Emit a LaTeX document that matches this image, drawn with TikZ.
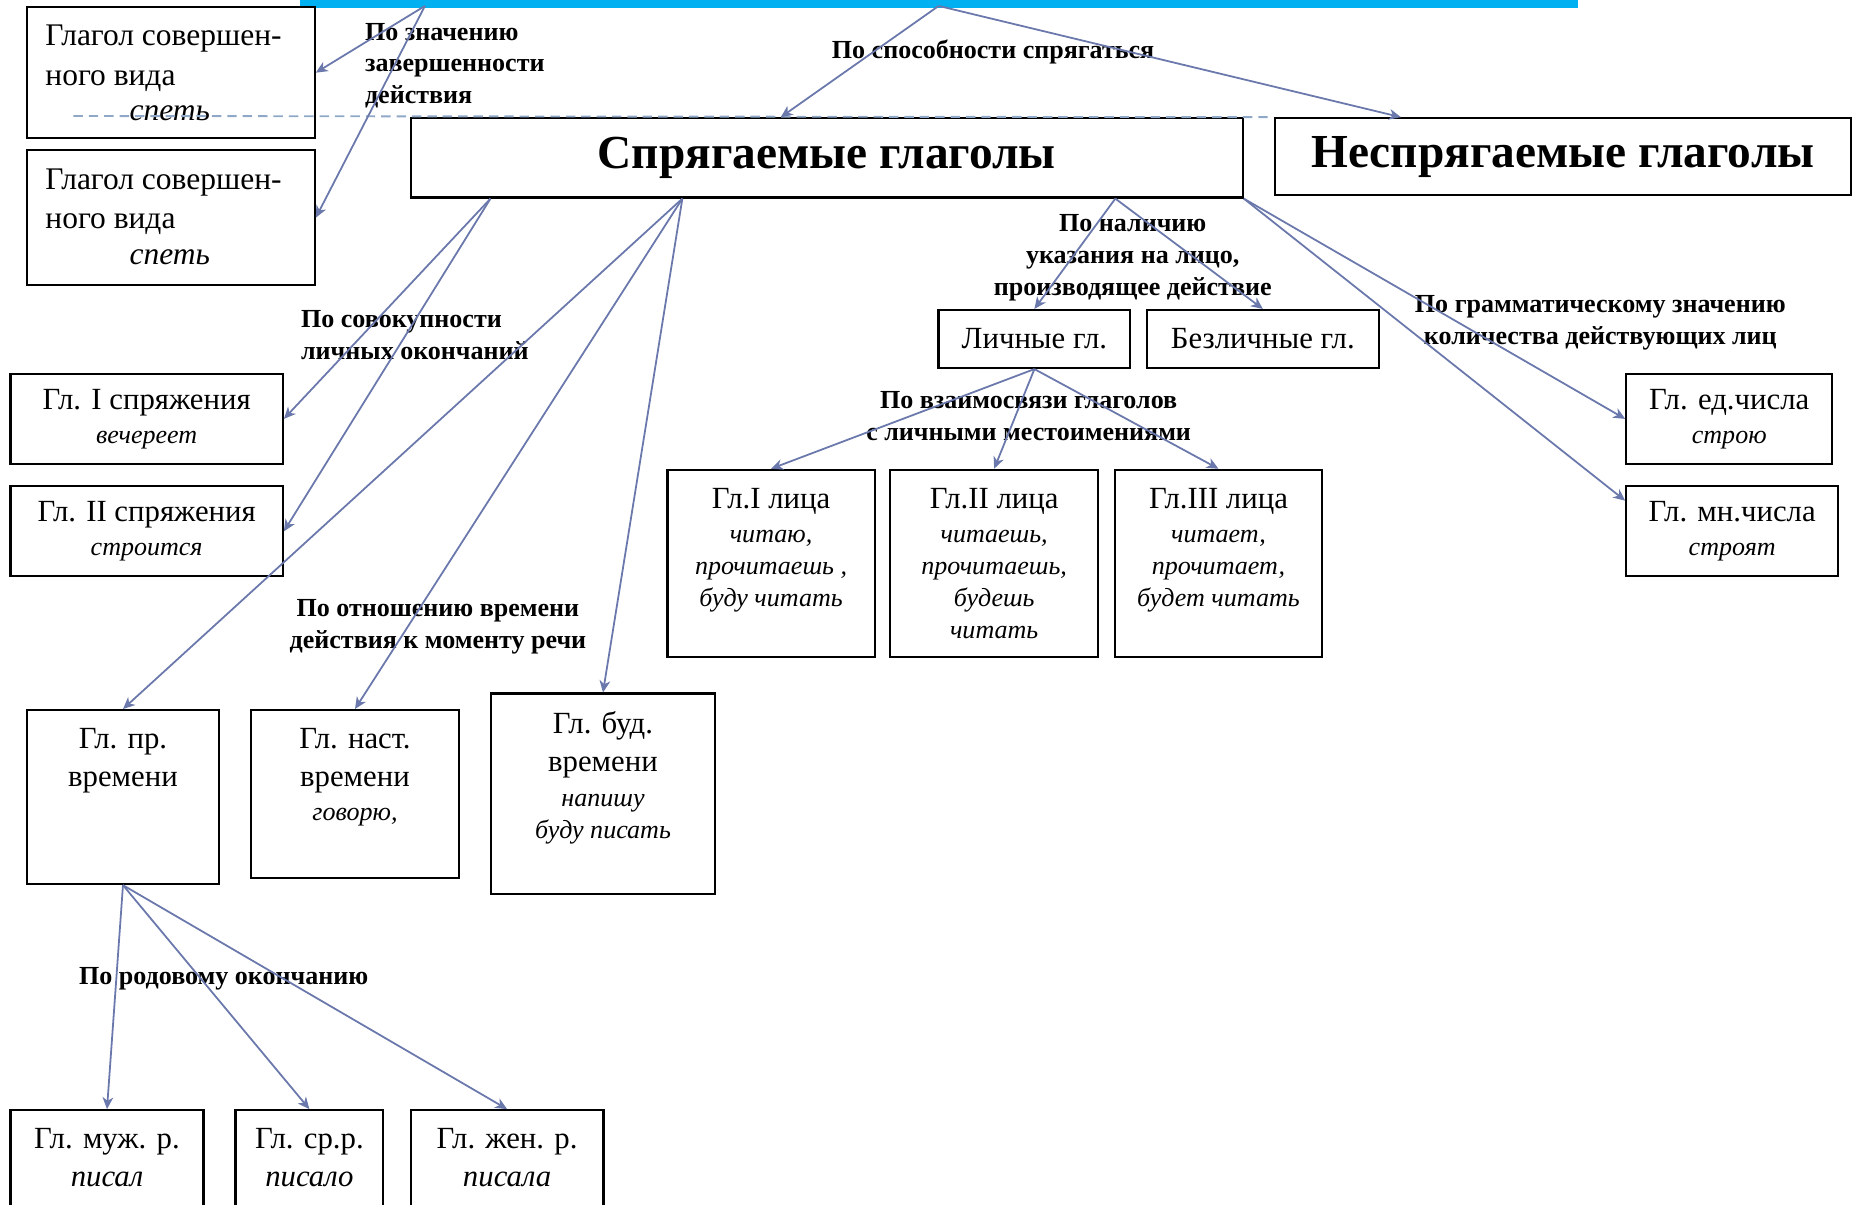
\documentclass[tikz,border=0pt]{standalone}
\usepackage{fontspec}
\setmainfont{Liberation Serif}
\usetikzlibrary{arrows.meta, calc, positioning}
\definecolor{arrc}{HTML}{6A78AC}
\definecolor{barc}{HTML}{00B0F0}
\definecolor{dashc}{HTML}{8FA8C8}
\newcommand{\smpl}[1]{{\fontsize{11}{13.5}\selectfont\itshape #1}}

\begin{document}
\begin{tikzpicture}[x=0.5pt, y=-0.5pt,
                box/.style={draw, line width=0.9pt, inner sep=0pt, anchor=north west},
                ttl/.style={font=\fontsize{13}{16}\selectfont, align=center, inner sep=0pt},
                lbl/.style={font=\bfseries\fontsize{11}{13.5}\selectfont, align=center, inner sep=0pt}]
            \tikzstyle{arr}=[draw=arrc, line width=0.75pt, -{Stealth[length=5pt, width=4.5pt, inset=1.5pt]}]
            \useasboundingbox (0,0) rectangle (1568,1018);

            \node[fill=barc, inner sep=0pt, minimum width=540pt, minimum height=3pt, anchor=north west] (bar) at (253,0) {};
            \coordinate (b1) at (359,5);
            \coordinate (b2) at (793,5);
            \coordinate (dl) at (62,98);

            \node[box, minimum width=121.5pt, minimum height=55.5pt] (ga) at (22,5) {};
            \node[ttl, font=\fontsize{13.3}{16.5}\selectfont, align=left, below right=8pt and 8pt of ga.north west] (ga-t) {Глагол совершен-\\ного вида\\[-1.5pt]\makebox[105pt]{\itshape спеть}};
            \node[box, minimum width=121.5pt, minimum height=57pt] (gb) at (22,126) {};
            \node[ttl, font=\fontsize{13.3}{16.5}\selectfont, align=left, below right=8pt and 8pt of gb.north west] (gb-t) {Глагол совершен-\\ного вида\\[-1pt]\makebox[105pt]{\itshape спеть}};

            \node[box, font=\bfseries\fontsize{20}{24}\selectfont, minimum width=351.5pt, minimum height=33.5pt] (spr) at (346,99) {Спрягаемые глаголы};
            \node[box, font=\bfseries\fontsize{20}{24}\selectfont, minimum width=243.5pt, minimum height=32.5pt] (nesp) at (1076,99) {Неспрягаемые глаголы};

            \node[box, ttl, minimum width=81pt, minimum height=24.5pt] (lich) at (792,261) {Личные гл.};
            \node[box, ttl, minimum width=98pt, minimum height=24.5pt] (bezl) at (968,261) {Безличные гл.};

            \node[box, ttl, minimum width=115pt, minimum height=38pt] (sp1) at (8,315) {Гл. I спряжения\\[-1.5pt]\smpl{вечереет}};
            \node[box, ttl, minimum width=115pt, minimum height=38pt] (sp2) at (8,410) {Гл. II спряжения\\[-1.5pt]\smpl{строится}};

            \node[box, minimum width=87.5pt, minimum height=79pt] (l1) at (563,396) {};
            \node[ttl, below=8pt of l1.north] (l1-t) {Гл.I лица\\[-1.5pt]\smpl{читаю,}\\[-2.5pt]\smpl{прочитаешь ,}\\[-2.5pt]\smpl{буду читать}};
            \node[box, minimum width=88pt, minimum height=79pt] (l2) at (751,396) {};
            \node[ttl, below=8pt of l2.north] (l2-t) {Гл.II лица\\[-1.5pt]\smpl{читаешь,}\\[-2.5pt]\smpl{прочитаешь,}\\[-2.5pt]\smpl{будешь}\\[-2.5pt]\smpl{читать}};
            \node[box, minimum width=87.5pt, minimum height=79pt] (l3) at (941,396) {};
            \node[ttl, below=8pt of l3.north] (l3-t) {Гл.III лица\\[-1.5pt]\smpl{читает,}\\[-2.5pt]\smpl{прочитает,}\\[-2.5pt]\smpl{будет читать}};

            \node[box, ttl, minimum width=87pt, minimum height=38pt] (ed) at (1373,315) {Гл. ед.числа\\[-1.5pt]\smpl{строю}};
            \node[box, ttl, minimum width=89.5pt, minimum height=38pt] (mn) at (1373,410) {Гл. мн.числа\\[-1.5pt]\smpl{строят}};

            \node[box, minimum width=81pt, minimum height=73.5pt] (prv) at (22,599) {};
            \node[ttl, below=8pt of prv.north] (prv-t) {Гл. пр.\\времени};
            \node[box, minimum width=88pt, minimum height=71pt] (nst) at (211,599) {};
            \node[ttl, below=8pt of nst.north] (nst-t) {Гл. наст.\\времени\\[-1.5pt]\smpl{говорю,}};
            \node[box, minimum width=94.5pt, minimum height=84.5pt] (bud) at (414,585) {};
            \node[ttl, below=8pt of bud.north] (bud-t) {Гл. буд.\\времени\\[-1.5pt]\smpl{напишу}\\[-2.5pt]\smpl{буду писать}};

            \node[box, minimum width=81.5pt, minimum height=45pt] (muz) at (8,937) {};
            \node[ttl, below=8pt of muz.north] (muz-t) {Гл. муж. р.\\{\itshape писал}};
            \node[box, minimum width=62.5pt, minimum height=45pt] (sr) at (198,937) {};
            \node[ttl, below=8pt of sr.north] (sr-t) {Гл. ср.р.\\{\itshape писало}};
            \node[box, minimum width=81.5pt, minimum height=45pt] (zhen) at (346,937) {};
            \node[ttl, below=8pt of zhen.north] (zhen-t) {Гл. жен. р.\\{\itshape писала}};

            \node[lbl, align=left, anchor=north west] (zn) at (308,19) {По значению\\завершенности\\действия};
            \node[lbl, anchor=north] (spos) at (839,33) {По способности спрягаться};
            \node[lbl, align=left, anchor=north west] (sov) at (254,262) {По совокупности\\личных окончаний};
            \node[lbl, anchor=north] (otn) at (370,506) {По отношению времени\\действия к моменту речи};
            \node[lbl, anchor=north] (nal) at (957,181) {По наличию\\указания на лицо,\\производящее действие};
            \node[lbl, anchor=north] (gram) at (1352,249) {По грамматическому значению\\количества действующих лиц};
            \node[lbl, anchor=north] (vz) at (869,330) {По взаимосвязи глаголов\\с личными местоимениями};
            \node[lbl, anchor=north] (rod) at (189,817) {По родовому окончанию};

            \draw[dashc, line width=0.8pt, dash pattern=on 4pt off 2.5pt] (dl) -- (nesp.north west);

            \draw[arr] (b1) -- (ga.east);
            \draw[arr] (b1) -- (gb.east);
            \draw[arr] (b2) -- ($(spr.north west)!0.445!(spr.north east)$);
            \draw[arr] (b2) -- ($(nesp.north west)!0.22!(nesp.north east)$);

            \coordinate (s1) at ($(spr.south west)!0.097!(spr.south east)$);
            \coordinate (s2) at ($(spr.south west)!0.327!(spr.south east)$);
            \coordinate (s3) at ($(spr.south west)!0.846!(spr.south east)$);
            \draw[arr] (s1) -- (sp1.east);
            \draw[arr] (s1) -- (sp2.east);
            \draw[arr] (s2) -- (prv.north);
            \draw[arr] (s2) -- (nst.north);
            \draw[arr] (s2) -- (bud.north);
            \draw[arr] (s3) -- (lich.north);
            \draw[arr] (s3) -- (bezl.north);
            \draw[arr] (spr.south east) -- (ed.west);
            \draw[arr] (spr.south east) -- (mn.164);

            \draw[arr] (lich.south) -- (l1.north);
            \draw[arr] (lich.south) -- (l2.north);
            \draw[arr] (lich.south) -- (l3.north);

            \draw[arr] (prv.south) -- (muz.north);
            \draw[arr] (prv.south) -- (sr.north);
            \draw[arr] (prv.south) -- (zhen.north);
        \end{tikzpicture}
\end{document}
